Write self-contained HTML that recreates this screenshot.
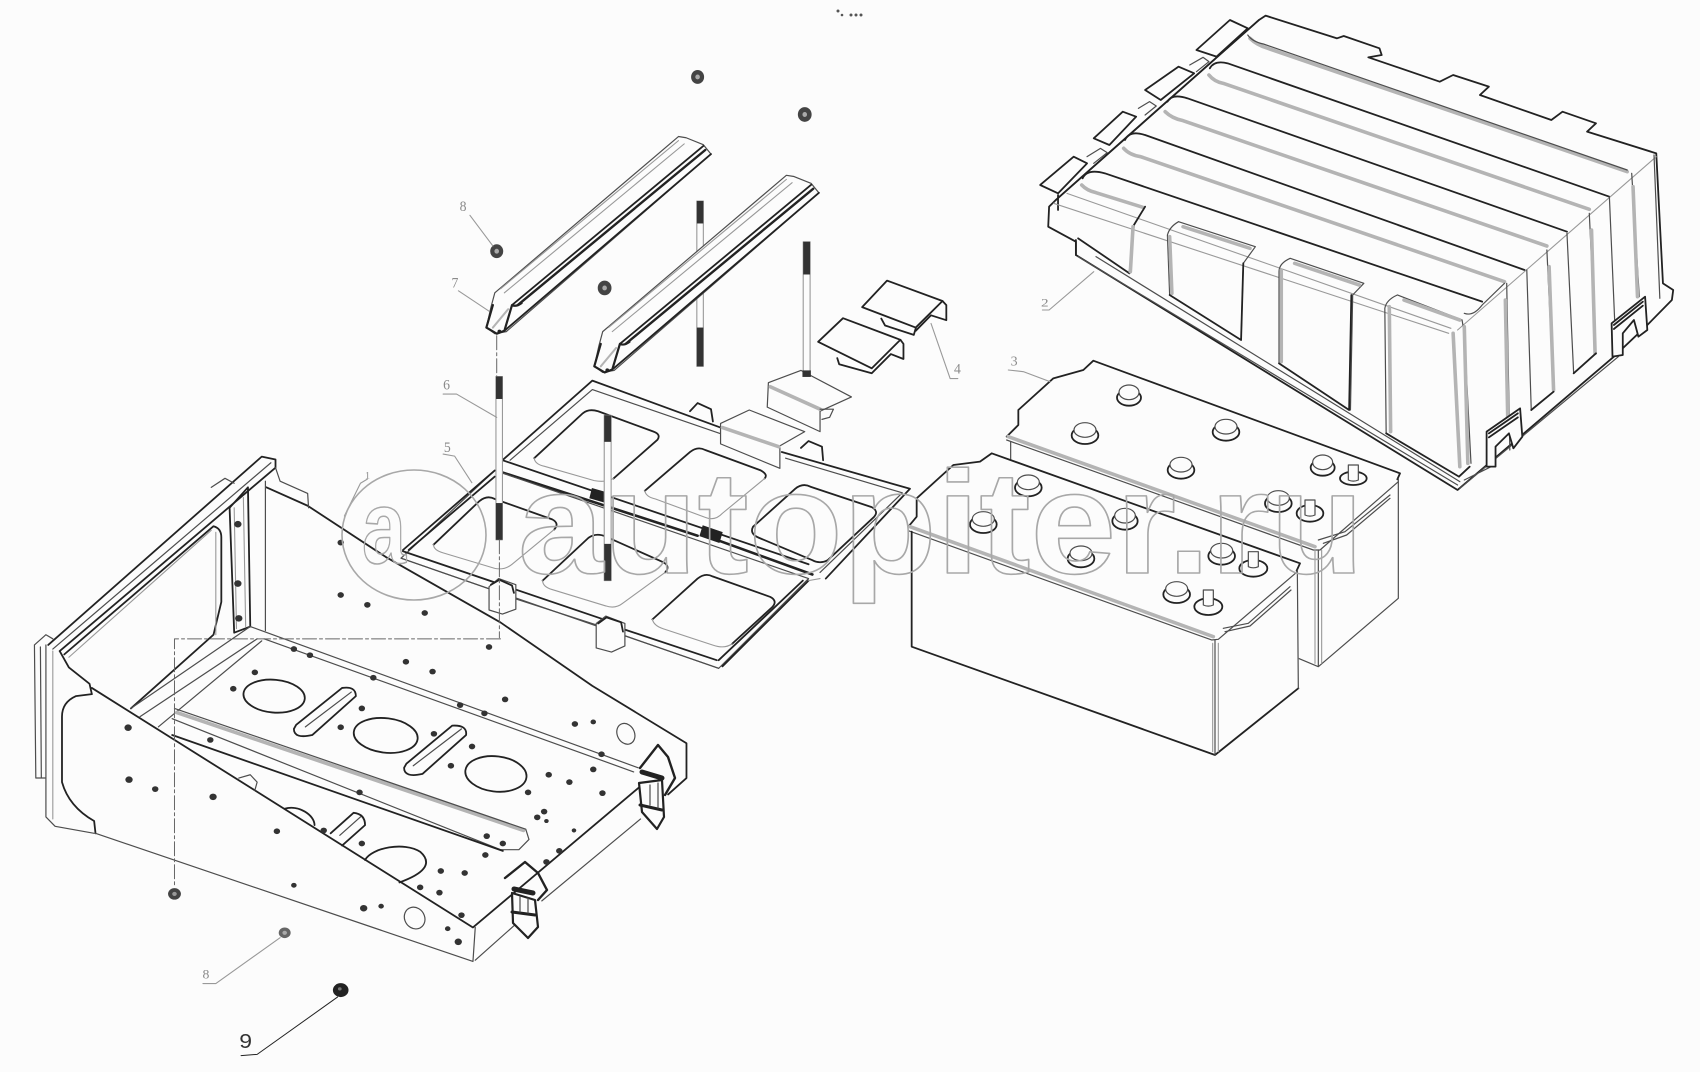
<!DOCTYPE html>
<html lang="ru">
<head>
<meta charset="utf-8">
<title>Diagram</title>
<style>
html,body{margin:0;padding:0;background:#fcfcfc;overflow:hidden}
svg{display:block;position:absolute;left:0;top:0}
.k,.m,.g,.l,.b,.d,.wm{vector-effect:non-scaling-stroke;fill:none;stroke-linejoin:round;stroke-linecap:round}
.k{stroke:#222;stroke-width:1.8}
.m{stroke:#4d4d4d;stroke-width:1.2}
.g{stroke:#999;stroke-width:1.1}
.l{stroke:#aaa;stroke-width:.9}
.b{stroke:#b4b4b4;stroke-width:3.6}
.d{stroke:#666;stroke-width:1;stroke-dasharray:14 3 3 3}
.w{fill:#fcfcfc}
.wm{stroke:#a8a8a8;stroke-width:1.6;fill:none}
.t{fill:#8a8a8a;font-family:"Liberation Serif",serif}
</style>
</head>
<body>
<svg width="1700" height="1072" viewBox="0 0 1700 1072" xmlns="http://www.w3.org/2000/svg">
<rect width="1700" height="1072" fill="#fcfcfc"/>

<!-- top specks -->
<g fill="#555"><circle cx="838" cy="11" r="1.5"/><circle cx="842" cy="15" r="1.3"/><circle cx="851" cy="15" r="1.5"/><circle cx="856" cy="15" r="1.5"/><circle cx="861" cy="15" r="1.5"/></g>

<!-- COVER -->
<g transform="translate(1000,0) scale(.44643,.33333)">
<path class="k w" d="M595,47 L755,115 L770,108 L850,145 L855,165 L825,172 L985,245 L1015,225 L1095,260 L1075,285 L1235,360 L1260,335 L1335,370 L1315,395 L1470,460 L1485,850 L1508,870 L1505,900 L1450,975 L1375,1070 L1025,1470 L170,765 L170,725 L108,680 L110,620 L125,600 L580,60 Z"/>
<path class="k w" d="M90,555 L165,470 L195,490 L130,580 Z"/>
<path class="k w" d="M210,415 L275,335 L305,350 L245,435 Z"/>
<path class="k w" d="M325,270 L400,200 L435,220 L360,300 Z"/>
<path class="k w" d="M440,150 L515,60 L555,85 L485,170 Z"/>
<path class="m" d="M195,470 L225,445 L240,458 L210,490 M310,325 L335,305 L350,318 L325,345 M425,195 L455,172 L468,185 L440,215"/>
<path class="k" d="M125,600 L580,60"/>
<path class="k" d="M130,630 L130,585"/>
<path class="b" d="M560,115 Q575,135 600,145 L1405,515"/>
<path class="b" d="M468,225 Q480,245 500,250 L1320,628"/>
<path class="b" d="M370,335 Q385,355 410,362 L1225,738"/>
<path class="b" d="M277,445 Q290,465 315,470 L1130,845"/>
<path class="b" d="M183,555 Q195,572 215,578 L320,622"/>
<path class="m" d="M555,105 Q565,125 590,132 L1405,510"/>
<path class="k" d="M470,205 Q480,180 510,190 L1365,590"/>
<path class="k" d="M375,305 Q385,280 420,295 L1270,695"/>
<path class="k" d="M280,420 Q290,390 325,405 L1175,810"/>
<path class="k" d="M185,535 Q195,505 235,520 L1080,905"/>
<path class="g" d="M120,610 L1005,1000 M150,580 L1010,985 M1025,990 L1470,470"/>
<path class="k" d="M325,620 L300,675 L290,820 L175,715"/>
<path class="b" d="M298,680 L292,815"/>
<path class="k" d="M170,720 L170,765"/>
<path class="m" d="M400,665 Q380,680 375,705 L380,885 M400,665 L572,740 L545,790 L540,1020"/>
<path class="b" d="M380,710 L385,880 M410,680 L560,745"/>
<path class="k" d="M380,885 L540,1020 L545,790"/>
<path class="m" d="M650,775 Q625,790 625,815 L625,1090 M650,775 L815,850 L790,885 L785,1230"/>
<path class="b" d="M630,810 L630,1085 M660,790 L805,855"/>
<path class="k" d="M625,1090 L782,1230 L787,885"/>
<path class="m" d="M890,885 Q865,900 862,925 L865,1300 M890,885 L1035,960 L1040,1000 L1055,1390"/>
<path class="b" d="M872,920 L875,1295 M905,900 L1030,960 M1015,1000 L1030,1400 M1040,980 L1048,1390"/>
<path class="k" d="M865,1300 L1028,1430 L1052,1400"/>
<path class="m" d="M1040,940 Q1060,950 1080,915 L1130,850"/>
<path class="m" d="M1135,850 L1142,1350 M1180,810 L1190,1230 L1240,1175 L1225,750 M1270,700 L1285,1120 L1335,1060 L1320,640 M1365,590 L1380,1060 M1415,520 L1432,890 M1465,465 L1478,895"/>
<path class="b" d="M1132,900 L1138,1300 M1230,800 L1240,1170 M1325,690 L1333,1060 M1418,560 L1428,890"/>
<path class="k" d="M1190,1230 L1240,1175 M1285,1120 L1335,1060"/>
<path class="m" d="M175,770 L1025,1455 M215,770 L1030,1445 M1030,1465 L1385,1070 M1040,1440 L1100,1400"/>
<path class="k w" d="M1090,1295 L1165,1225 L1170,1310 L1150,1345 L1140,1300 L1110,1340 L1110,1400 L1090,1400 Z"/>
<path class="k" d="M1095,1300 L1160,1240 M1095,1312 L1160,1252"/>
<path class="k w" d="M1370,970 L1445,890 L1450,990 L1430,1010 L1420,960 L1395,1000 L1395,1065 L1372,1070 Z"/>
<path class="k" d="M1375,975 L1440,905 M1375,987 L1440,917"/>
<path class="g" d="M210,815 L110,930 L95,930"/>
<text class="t" x="92" y="920" font-size="34">2</text>
</g>

<!-- BATTERIES -->
<g transform="translate(890,350) scale(.33333)">
<path class="w" d="M350,260 L385,225 L385,180 L490,85 L580,60 L610,32 L1530,370 L1525,745 L1285,950 L1225,925 L360,600 Z"/>
<path class="k" d="M350,260 L385,225 L385,180 L490,85 L580,60 L610,32 L1530,370 L1522,388"/>
<path class="b" d="M355,260 L1275,590"/>
<path class="m" d="M350,270 L1270,600 L1290,600 L1525,395"/>
<path class="m" d="M362,275 L362,330"/>
<path class="m" d="M1285,600 L1285,950 L1525,745 L1525,385 M1225,925 L1285,950"/>
<path class="g" d="M1275,600 L1275,940 M1295,600 L1295,940"/>
<path class="m" d="M1285,570 L1365,545 L1500,435 M1300,580 L1370,555 L1500,445"/>
<g>
<g transform="translate(717,135)"><ellipse class="k w" rx="36" ry="24" cy="8"/><ellipse class="m w" rx="30" ry="22" cy="-8"/></g>
<g transform="translate(585,248)"><ellipse class="k w" rx="40" ry="26" cy="8"/><ellipse class="m w" rx="33" ry="22" cy="-8"/></g>
<g transform="translate(1008,238)"><ellipse class="k w" rx="40" ry="26" cy="8"/><ellipse class="m w" rx="33" ry="22" cy="-8"/></g>
<g transform="translate(873,352)"><ellipse class="k w" rx="40" ry="26" cy="8"/><ellipse class="m w" rx="33" ry="22" cy="-8"/></g>
<g transform="translate(1298,345)"><ellipse class="k w" rx="36" ry="24" cy="8"/><ellipse class="m w" rx="30" ry="22" cy="-8"/></g>
<g transform="translate(1165,452)"><ellipse class="k w" rx="40" ry="26" cy="8"/><ellipse class="m w" rx="33" ry="22" cy="-8"/></g>
<g transform="translate(1390,385)"><ellipse class="k w" rx="40" ry="20"/><path class="m w" d="M-15,-40 L15,-40 L15,5 Q0,12 -15,5 Z"/></g>
<g transform="translate(1260,490)"><ellipse class="k w" rx="40" ry="25"/><path class="m w" d="M-15,-40 L15,-40 L15,5 Q0,12 -15,5 Z"/></g>
</g>
<path class="w" d="M55,530 L80,500 L80,445 L190,345 L270,335 L305,310 L1230,640 L1225,1015 L975,1215 L65,890 Z"/>
<path class="k" d="M55,530 L80,500 L80,445 L190,345 L270,335 L305,310 L1230,640 L1220,662"/>
<path class="b" d="M60,530 L970,860"/>
<path class="m" d="M55,542 L965,870 L985,868 L1222,665"/>
<path class="k" d="M65,545 L65,890 L975,1215 L1225,1015"/>
<path class="m" d="M1222,660 L1225,1015 M975,870 L975,1215"/>
<path class="g" d="M968,880 L968,1205 M985,880 L985,1205"/>
<path class="m" d="M1000,835 L1075,820 L1200,710 M1005,845 L1080,828 L1203,720"/>
<g>
<g transform="translate(415,405)"><ellipse class="k w" rx="40" ry="26" cy="8"/><ellipse class="m w" rx="33" ry="22" cy="-8"/></g>
<g transform="translate(280,515)"><ellipse class="k w" rx="40" ry="26" cy="8"/><ellipse class="m w" rx="33" ry="22" cy="-8"/></g>
<g transform="translate(705,505)"><ellipse class="k w" rx="38" ry="26" cy="8"/><ellipse class="m w" rx="31" ry="22" cy="-8"/></g>
<g transform="translate(573,618)"><ellipse class="k w" rx="40" ry="26" cy="8"/><ellipse class="m w" rx="33" ry="22" cy="-8"/></g>
<g transform="translate(995,610)"><ellipse class="k w" rx="40" ry="26" cy="8"/><ellipse class="m w" rx="33" ry="22" cy="-8"/></g>
<g transform="translate(860,725)"><ellipse class="k w" rx="40" ry="26" cy="8"/><ellipse class="m w" rx="33" ry="22" cy="-8"/></g>
<g transform="translate(1090,645)"><ellipse class="k w" rx="42" ry="25" cy="10"/><path class="m w" d="M-15,-40 L15,-40 L15,5 Q0,12 -15,5 Z"/></g>
<g transform="translate(955,760)"><ellipse class="k w" rx="42" ry="25" cy="10"/><path class="m w" d="M-15,-40 L15,-40 L15,5 Q0,12 -15,5 Z"/></g>
</g>
<path class="g" d="M355,60 L400,65 L480,95"/>
<text class="t" x="362" y="46" font-size="42">3</text>
</g>

<!-- FRAME -->
<g transform="translate(0,430) scale(.45918,.40944)">
<path class="m" d="M75,525 L100,500 L115,510 M75,525 L78,850 L98,850 M88,530 L90,848"/>
<path class="k" d="M105,525 L570,65 L600,72 L600,92 L130,540"/>
<path class="m" d="M115,535 L590,80"/>
<path class="m" d="M460,140 L490,118 L510,130"/>
<path class="k" d="M140,548 L465,235 Q482,240 482,262 L482,420 L465,500 L285,680"/>
<path class="g" d="M150,555 L460,245 M470,250 L470,500"/>
<path class="k" d="M130,540 L150,580 L195,620 L200,645"/>
<path class="m" d="M100,525 L100,945 L120,968 L205,985"/>
<path class="g" d="M115,540 L115,950"/>
<path class="k" d="M200,645 L165,650 Q135,665 135,700 L135,860 Q150,920 205,955 L208,985"/>
<path class="m" d="M208,985 L1030,1298 L1035,1215"/>
<path class="k" d="M200,630 L1030,1215 L1400,865"/>
<path class="k" d="M580,140 L670,185 L840,310 L1090,470 L1290,625 L1495,765 L1495,850 L1455,890"/>
<path class="m" d="M600,92 L610,125 L670,155 L672,190 M578,125 L578,490"/>
<path class="m" d="M1035,1295 L1120,1210 M1180,1150 L1395,950"/>
<path class="k" d="M540,140 L545,480 L510,495 L500,190 Z"/>
<path class="g" d="M510,190 L515,485 M530,165 L535,480"/>
<path class="m" d="M545,480 L1390,825 M575,510 L1380,835 M285,680 L545,480 M305,700 L560,510 M345,725 L570,515"/>
<path class="b" d="M385,690 L1140,978"/>
<path class="m" d="M380,680 L1145,975 L1152,1000 L1130,1025 L1090,1025 L375,705"/>
<path class="k" d="M375,745 L1095,1028"/>
<ellipse class="k" cx="597" cy="650" rx="67" ry="40" transform="rotate(6 597 650)"/>
<ellipse class="k" cx="840" cy="746" rx="70" ry="42" transform="rotate(8 840 746)"/>
<ellipse class="k" cx="1080" cy="840" rx="67" ry="43" transform="rotate(8 1080 840)"/>
<ellipse class="m" cx="1363" cy="742" rx="19" ry="26" transform="rotate(-18 1363 742)"/>
<ellipse class="m" cx="903" cy="1192" rx="22" ry="27" transform="rotate(-18 903 1192)"/>
<path class="k" d="M795,1050 C810,1020 880,1005 915,1030 C945,1060 920,1085 870,1105 M620,925 C650,915 685,940 685,965"/>
<path class="k" d="M645,720 L745,630 Q775,625 775,650 L680,745 Q640,755 640,730 Z"/>
<path class="m" d="M665,725 L765,640"/>
<path class="k" d="M885,815 L985,722 Q1018,720 1015,745 L920,840 Q880,850 880,825 Z"/>
<path class="m" d="M900,820 L1005,730"/>
<path class="k" d="M720,985 L770,935 Q795,938 795,965 L745,1015"/>
<path class="m" d="M740,990 L785,945"/>
<path class="m" d="M520,850 L545,842 L560,860 L555,880"/>
<g fill="#333">
<circle cx="742" cy="275" r="7"/><circle cx="742" cy="403" r="7"/><circle cx="800" cy="427" r="7"/><circle cx="925" cy="447" r="7"/><circle cx="1065" cy="530" r="7"/><circle cx="884" cy="566" r="7"/><circle cx="942" cy="590" r="7"/><circle cx="1100" cy="658" r="7"/><circle cx="1252" cy="718" r="7"/><circle cx="1292" cy="713" r="6"/><circle cx="1002" cy="672" r="7"/><circle cx="1055" cy="692" r="7"/><circle cx="813" cy="605" r="7"/><circle cx="640" cy="535" r="7"/><circle cx="675" cy="550" r="7"/><circle cx="555" cy="592" r="7"/><circle cx="508" cy="632" r="7"/><circle cx="788" cy="680" r="7"/><circle cx="742" cy="726" r="7"/><circle cx="945" cy="742" r="7"/><circle cx="1028" cy="773" r="7"/><circle cx="982" cy="820" r="7"/><circle cx="1195" cy="842" r="7"/><circle cx="1240" cy="860" r="7"/><circle cx="1292" cy="829" r="7"/><circle cx="1150" cy="885" r="7"/><circle cx="1312" cy="887" r="7"/><circle cx="1185" cy="932" r="7"/><circle cx="1170" cy="946" r="7"/><circle cx="1190" cy="955" r="5"/><circle cx="1250" cy="978" r="5"/><circle cx="1218" cy="1028" r="7"/><circle cx="1190" cy="1055" r="7"/><circle cx="1057" cy="1038" r="7"/><circle cx="1060" cy="992" r="7"/><circle cx="1095" cy="1010" r="7"/><circle cx="960" cy="1077" r="7"/><circle cx="1012" cy="1082" r="7"/><circle cx="915" cy="1117" r="7"/><circle cx="957" cy="1130" r="7"/><circle cx="783" cy="885" r="7"/><circle cx="788" cy="1010" r="7"/><circle cx="705" cy="978" r="7"/><circle cx="603" cy="980" r="7"/><circle cx="464" cy="896" r="8"/><circle cx="338" cy="877" r="7"/><circle cx="281" cy="854" r="8"/><circle cx="279" cy="727" r="8"/><circle cx="458" cy="757" r="7"/><circle cx="640" cy="1112" r="6"/><circle cx="792" cy="1168" r="8"/><circle cx="830" cy="1163" r="6"/><circle cx="975" cy="1218" r="6"/><circle cx="998" cy="1250" r="8"/><circle cx="1005" cy="1185" r="7"/><circle cx="1310" cy="792" r="7"/><circle cx="518" cy="230" r="8"/><circle cx="518" cy="375" r="8"/><circle cx="520" cy="460" r="8"/>
</g>
<path class="d" d="M1090,510 L380,510 L380,1115"/>
<circle cx="380" cy="1133" r="14" fill="#444"/><circle cx="380" cy="1133" r="5" fill="#999"/>
<circle cx="620" cy="1228" r="13" fill="#666"/><circle cx="620" cy="1228" r="5" fill="#aaa"/>
<circle cx="742" cy="1368" r="17" fill="#222"/><circle cx="740" cy="1365" r="4" fill="#777"/>
<path class="g" d="M610,1240 L470,1352 L442,1352"/>
<text class="t" x="441" y="1340" font-size="30">8</text>
<path class="k" style="stroke-width:1" d="M735,1385 L560,1525 L525,1528"/>
<text x="521" y="1510" font-size="50" fill="#333" font-family="Liberation Sans, sans-serif">9</text>
<path class="g" d="M800,120 L785,130 L750,210"/>
<text class="t" x="795" y="118" font-size="22">1</text>
</g>

<!-- LATCHES (real coordinates) -->
<g>
<path class="k" style="stroke-width:2.4" d="M640,768 L658,745 L668,757 L675,778 L665,795"/>
<path class="k w" style="stroke-width:2.2" d="M639,783 L662,780 L664,817 L657,829 L642,812 Z"/>
<path class="k" style="stroke-width:5" d="M642,772 L662,778"/>
<path class="k" style="stroke-width:3" d="M640,805 L662,810"/>
<path class="m" d="M650,785 L650,805 M658,783 L658,808"/>
<path class="k" style="stroke-width:2.4" d="M505,878 L525,862 L538,873 L547,890 L538,900"/>
<path class="k w" style="stroke-width:2.2" d="M512,893 L535,900 L538,927 L528,938 L513,923 Z"/>
<path class="k" style="stroke-width:5" d="M514,889 L533,893"/>
<path class="k" style="stroke-width:3" d="M512,912 L535,915"/>
<path class="m" d="M520,897 L520,912 M528,898 L528,913"/>
</g>

<!-- TRAY / RAILS -->
<g transform="translate(380,50) scale(.38265,.40816)">
<g>
<rect class="g" x="828" y="370" width="17" height="405"/>
<rect x="828" y="370" width="17" height="55" fill="#333"/>
<rect x="828" y="680" width="17" height="95" fill="#333"/>
<rect class="g w" x="1106" y="470" width="18" height="325"/>
<rect x="1106" y="470" width="18" height="80" fill="#333"/>
</g>
<g>
<path class="m w" d="M300,595 L780,212 L800,215 L845,232 L865,255 L330,690 L300,695 L278,680 L290,630 Z"/>
<path class="k" d="M345,625 L845,235"/>
<path class="k" style="stroke-width:2.4" d="M360,625 L850,245"/>
<path class="k" d="M325,688 L865,255"/>
<path class="g" d="M315,585 L780,222 M325,595 L795,230"/>
<path class="k" style="stroke-width:2.2" d="M295,625 L278,680 L305,695 L325,688 L345,625 Q355,630 370,620"/>
<path class="b" style="stroke-width:2" d="M295,680 L335,635"/>
<circle cx="312" cy="690" r="5" fill="#222"/>
</g>
<g transform="translate(282,95)">
<path class="m w" d="M300,595 L780,212 L800,215 L845,232 L865,255 L330,690 L300,695 L278,680 L290,630 Z"/>
<path class="k" d="M345,625 L845,235"/>
<path class="k" style="stroke-width:2.4" d="M360,625 L850,245"/>
<path class="k" d="M325,688 L865,255"/>
<path class="g" d="M315,585 L780,222 M325,595 L795,230"/>
<path class="k" style="stroke-width:2.2" d="M295,625 L278,680 L305,695 L325,688 L345,625 Q355,630 370,620"/>
<path class="b" style="stroke-width:2" d="M295,680 L335,635"/>
<circle cx="312" cy="690" r="5" fill="#222"/>
</g>
<path class="k" d="M320,1005 L555,810 L890,925 M1050,985 L1385,1075 L1165,1295"/>
<path class="m" d="M340,1005 L555,832 L890,940 M1060,1000 L1365,1085 L1150,1280"/>
<path class="k" d="M320,1005 L1120,1260"/>
<path class="k" style="stroke-width:2.6" d="M320,1035 L830,1190 M850,1190 L1130,1285"/>
<path class="m" d="M300,1030 L1120,1295 L885,1515 L55,1245 Z"/>
<path class="k" d="M60,1225 L300,1030"/>
<path class="k" d="M75,1225 L300,1045"/>
<path class="k" d="M60,1228 L600,1400 M640,1420 L880,1495"/>
<path class="m" d="M55,1245 L285,1320 M355,1345 L570,1410 M640,1435 L885,1515"/>
<path class="k" d="M885,1495 L1105,1300 M895,1510 L1120,1300"/>
<path class="g" d="M1120,1300 L1150,1295"/>
<g>
<path class="k" d="M403,1000 L530,890 Q545,878 570,885 L715,935 Q735,942 725,955 L610,1050"/>
<path class="g" d="M403,1000 Q405,1015 430,1020 L560,1055 Q590,1060 610,1050"/>
<path class="k" d="M692,1080 L810,985 Q830,970 850,980 L995,1030 Q1015,1040 1005,1050"/>
<path class="g" d="M692,1080 Q695,1095 720,1100 L850,1145 Q875,1155 895,1135 L1005,1050"/>
<path class="k" d="M975,1168 L1085,1075 Q1105,1060 1125,1070 L1285,1120 Q1305,1130 1290,1145 L1170,1250 Q1150,1260 1130,1250 L990,1195 Q965,1185 975,1168 Z"/>
<path class="k" d="M140,1212 L260,1105 Q280,1090 300,1100 L450,1150 Q470,1160 455,1175"/>
<path class="g" d="M140,1212 Q140,1225 165,1232 L300,1270 Q325,1275 345,1260 L455,1175"/>
<path class="k" d="M425,1300 L545,1195 Q565,1182 590,1192 L740,1255 Q760,1265 745,1280"/>
<path class="g" d="M425,1300 Q425,1315 450,1322 L590,1362 Q615,1370 635,1355 L745,1280"/>
<path class="k" d="M712,1395 L830,1295 Q850,1280 870,1290 L1020,1340 Q1040,1350 1025,1365 L920,1455"/>
<path class="g" d="M712,1395 Q715,1410 740,1418 L870,1458 Q900,1468 920,1455"/>
</g>
<rect x="550" y="1078" width="40" height="26" fill="#222" transform="rotate(15 570 1090)"/>
<rect x="838" y="1172" width="55" height="28" fill="#222" transform="rotate(18 865 1185)"/>
<path class="m w" d="M285,1315 L310,1295 L355,1310 L355,1370 L320,1382 L285,1372 Z"/>
<path class="k" d="M290,1310 L312,1298 L345,1312 L350,1330"/>
<path class="m w" d="M565,1405 L590,1387 L640,1405 L640,1460 L605,1475 L565,1465 Z"/>
<path class="k" d="M570,1405 L592,1390 L630,1402 L635,1425"/>
<path class="k" d="M810,885 L830,865 L865,880 L870,910"/>
<path class="k" d="M1100,975 L1120,958 L1155,972 L1158,1005"/>
<rect class="g w" x="303" y="800" width="17" height="400"/>
<rect x="303" y="800" width="17" height="55" fill="#333"/>
<rect x="303" y="1110" width="17" height="90" fill="#333"/>
<rect class="g w" x="586" y="895" width="18" height="405"/>
<rect x="586" y="895" width="18" height="65" fill="#333"/>
<rect x="586" y="1210" width="18" height="90" fill="#333"/>
<path class="m w" d="M1015,815 L1100,785 L1232,850 L1150,885 L1150,935 L1012,875 Z"/>
<path class="b" d="M1020,825 L1150,880"/>
<rect x="1104" y="785" width="22" height="16" fill="#333"/>
<path class="m w" d="M890,915 L965,882 L1110,935 L1045,970 L1045,1025 L890,965 Z"/>
<path class="b" d="M895,925 L1042,972"/>
<path class="m" d="M1150,880 L1185,880 L1175,900 L1155,905"/>
<path class="k w" d="M1260,630 L1325,565 L1470,615 L1400,680 Z"/>
<path class="k" d="M1470,615 L1480,625 L1480,662 L1440,650 L1400,688 M1310,658 L1320,675 L1395,698 L1400,682"/>
<path class="k w" d="M1145,715 L1210,657 L1360,710 L1285,780 Z"/>
<path class="k" d="M1360,710 L1368,720 L1368,757 L1335,745 L1285,792 L1200,770 L1195,755"/>
<path class="d" d="M305,700 L305,800 M312,1200 L312,1440"/>
<g>
<circle cx="830" cy="66" r="17" fill="#444"/><circle cx="830" cy="66" r="6" fill="#aaa"/>
<circle cx="1110" cy="158" r="18" fill="#444"/><circle cx="1110" cy="158" r="6" fill="#aaa"/>
<circle cx="305" cy="493" r="17" fill="#444"/><circle cx="305" cy="493" r="6" fill="#aaa"/>
<circle cx="587" cy="583" r="18" fill="#444"/><circle cx="587" cy="583" r="6" fill="#aaa"/>
</g>
<path class="g" d="M235,405 L295,480 M205,590 L285,640 M165,843 L200,843 L305,900 M165,990 L195,995 L240,1060 M1490,805 L1510,805 M1490,805 L1440,670"/>
<text class="t" x="208" y="395" font-size="36">8</text>
<text class="t" x="187" y="582" font-size="36">7</text>
<text class="t" x="165" y="832" font-size="36">6</text>
<text class="t" x="167" y="985" font-size="36">5</text>
<text class="t" x="1500" y="792" font-size="36">4</text>
</g>

<!-- WATERMARK -->
<ellipse class="wm" cx="414" cy="535" rx="72" ry="65"/>
<text class="wm" x="362" y="563" font-size="104" font-weight="bold" font-family="Liberation Sans, sans-serif" textLength="44" lengthAdjust="spacingAndGlyphs">a</text>
<text class="wm" x="518" y="573" font-size="146" font-weight="bold" font-family="Liberation Sans, sans-serif" textLength="846" lengthAdjust="spacingAndGlyphs">autopiter.ru</text>
</svg>
</body>
</html>
